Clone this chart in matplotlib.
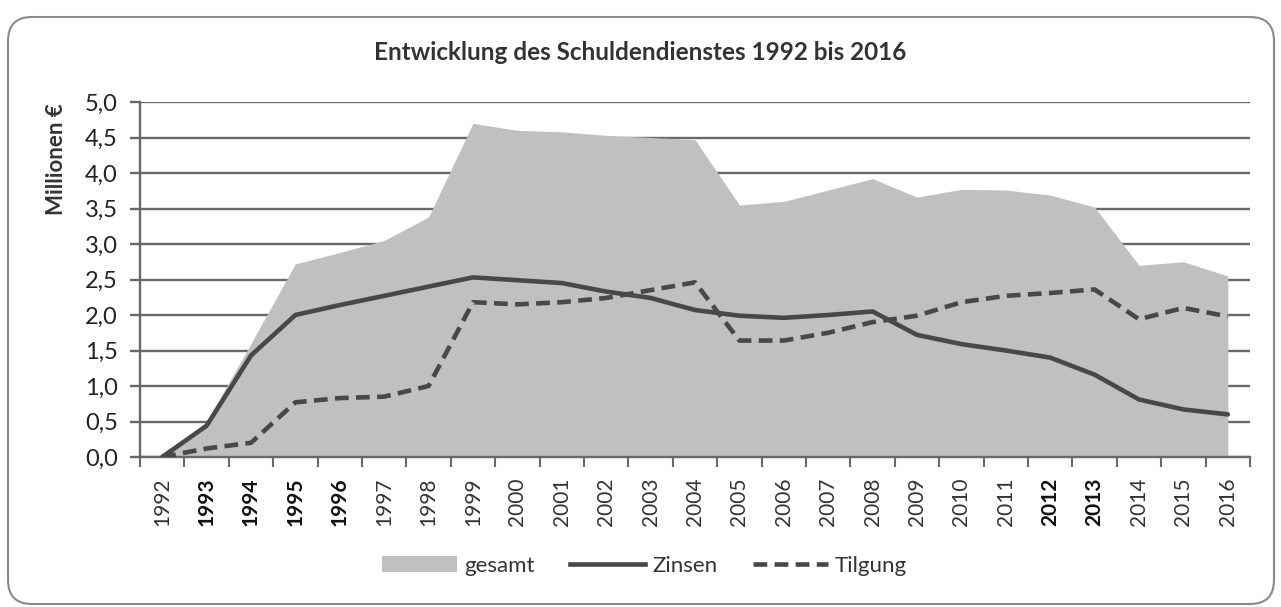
import matplotlib
matplotlib.use("Agg")
import matplotlib.pyplot as plt
from matplotlib.patches import FancyBboxPatch, Patch
from matplotlib.lines import Line2D
from matplotlib.transforms import IdentityTransform
import numpy as np

# values (Millionen Euro)
years = ['1992', '1993', '1994', '1995', '1996', '1997', '1998', '1999', '2000',
         '2001', '2002', '2003', '2004', '2005', '2006', '2007', '2008', '2009',
         '2010', '2011', '2012', '2013', '2014', '2015', '2016']
gesamt = [0.0, 0.5, 1.6, 2.72, 2.88, 3.05, 3.38, 4.7, 4.6, 4.58, 4.53, 4.5, 4.47,
          3.55, 3.6, 3.76, 3.92, 3.66, 3.77, 3.76, 3.69, 3.52, 2.7, 2.75, 2.55]
zinsen = [0.0, 0.44, 1.43, 2.0, 2.14, 2.27, 2.4, 2.53, 2.49, 2.45, 2.33, 2.24, 2.07,
          1.99, 1.96, 2.0, 2.05, 1.72, 1.59, 1.5, 1.4, 1.16, 0.81, 0.67, 0.6]
tilgung = [0.0, 0.12, 0.2, 0.77, 0.83, 0.85, 1.0, 2.18, 2.15, 2.18, 2.24, 2.35, 2.46,
           1.64, 1.64, 1.75, 1.9, 1.99, 2.18, 2.27, 2.31, 2.36, 1.94, 2.1, 1.98]
y_ticks = [0.0, 0.5, 1.0, 1.5, 2.0, 2.5, 3.0, 3.5, 4.0, 4.5, 5.0]
bold_years = ['1993', '1994', '1995', '1996', '2012', '2013']

plt.rcParams['font.family'] = ['Lato', 'DejaVu Sans']

W, H = 1281, 607
fig = plt.figure(figsize=(W / 100, H / 100), dpi=100)
ax = fig.add_axes([140 / W, 1 - 457 / H, 1110 / W, 355 / H])

x = np.arange(len(years))
grid_col = '#686868'
line_col = '#484848'
area_col = '#c0c0c0'

ax.fill_between(x, gesamt, 0, color=area_col, lw=0, zorder=1)
ax.plot(x, zinsen, color=line_col, lw=3.3, solid_capstyle='round', zorder=3)
ax.plot(x, tilgung, color=line_col, lw=3.3, dashes=(3, 1.6), zorder=3)

ax.set_xlim(-0.5, len(years) - 0.5)
ax.set_ylim(0, 5)

# y axis
ax.set_yticks(y_ticks)
ax.set_yticklabels([f"{v:.1f}".replace('.', ',') for v in y_ticks])
ax.yaxis.grid(True, color=grid_col, lw=1.7, zorder=0)
ax.set_axisbelow(True)
ax.tick_params(axis='y', length=7, width=1.7, color=grid_col, labelsize=17,
               labelcolor='#222222', pad=9)

# x axis: ticks between categories, labels at the centres
ax.set_xticks(np.arange(-0.5, len(years), 1.0))
ax.set_xticklabels([])
ax.set_xticks(x, minor=True)
ax.set_xticklabels(years, minor=True, rotation=90)
ax.tick_params(axis='x', which='major', length=7, width=1.5, color=grid_col)
ax.tick_params(axis='x', which='minor', length=0, labelsize=15,
               labelcolor='#333333', pad=15)
for lab in ax.get_xticklabels(minor=True):
    if lab.get_text() in bold_years:
        lab.set_fontweight('bold')
        lab.set_color('#111111')

for s in ['top', 'right']:
    ax.spines[s].set_visible(False)
for s in ['left', 'bottom']:
    ax.spines[s].set_color(grid_col)
    ax.spines[s].set_linewidth(1.7)

ax.set_ylabel('Millionen €', fontsize=16, fontweight='bold', color='#333333')
ax.yaxis.set_label_coords(-0.066, 0.84)

fig.text(0.5, 1 - 53 / H, 'Entwicklung des Schuldendienstes 1992 bis 2016',
         ha='center', va='center', fontsize=17.5, fontweight='bold', color='#333333')

handles = [Patch(facecolor=area_col, edgecolor='none'),
           Line2D([], [], color=line_col, lw=3.3),
           Line2D([], [], color=line_col, lw=3.3, dashes=(3, 1.6))]
fig.legend(handles, ['gesamt', 'Zinsen', 'Tilgung'], loc='center',
           bbox_to_anchor=(0.503, 1 - 566 / H), ncol=3, frameon=False,
           fontsize=16, handlelength=3.4, handletextpad=0.3, columnspacing=1.6,
           labelcolor='#333333')

# rounded outer frame
frame = FancyBboxPatch((8, 3), 1266, 587, boxstyle='round,pad=0,rounding_size=24',
                       transform=IdentityTransform(), fill=False,
                       edgecolor='#8a8a8a', lw=1.5)
fig.add_artist(frame)

fig.savefig('out.png', dpi=100)
